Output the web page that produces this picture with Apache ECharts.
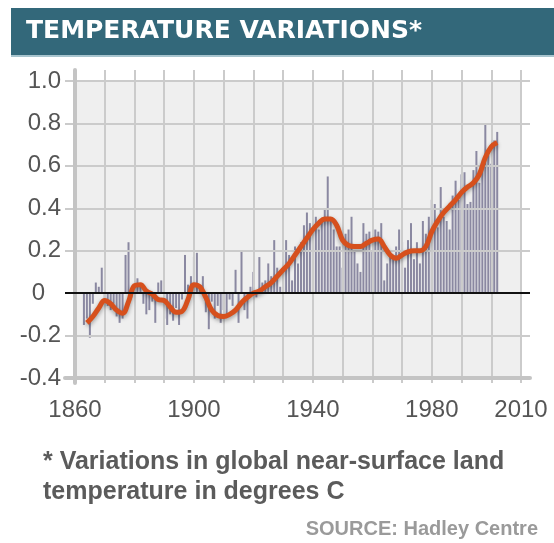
<!DOCTYPE html>
<html><head><meta charset="utf-8">
<script src="https://cdn.jsdelivr.net/npm/echarts@6/dist/echarts.min.js"></script>
<style>html,body{margin:0;padding:0;background:#fff}#c{width:554px;height:543px}</style>
</head><body><div id="c"></div>
<script>
const titleText = 'TEMPERATURE VARIATIONS*';
const noteLines = ['* Variations in global near-surface land', 'temperature in degrees C'];
const sourceText = 'SOURCE: Hadley Centre';

// annual anomalies, one per year starting at firstYear
const firstYear = 1863;
const annual = [
  -0.15, -0.12, -0.21, -0.05, 0.05, 0.03, 0.12,            // 1863-1869
  -0.04, -0.06, -0.08, -0.05, -0.11, -0.14, -0.12, 0.18, 0.24, -0.02, // 1870-1879
  0.02, 0.07, 0.04, -0.05, -0.10, -0.08, -0.04, -0.14, 0.05, 0.06,    // 1880-1889
  -0.12, -0.15, -0.10, -0.13, -0.07, -0.15, -0.03, 0.18, 0.04, 0.08,  // 1890-1899
  0.17, 0.19, 0.02, 0.08, -0.09, -0.17, -0.04, -0.12, -0.06, -0.14,   // 1900-1909
  -0.08, -0.11, -0.03, -0.06, 0.11, -0.14, 0.20, -0.08, -0.12, 0.03,  // 1910-1919
  0.10, -0.02, 0.17, 0.05, 0.06, 0.14, 0.08, 0.25, 0.12, 0.03,        // 1920-1929
  0.20, 0.25, 0.18, 0.06, 0.22, 0.14, 0.24, 0.32, 0.38, 0.33,         // 1930-1939
  0.28, 0.36, 0.30, 0.34, 0.40, 0.55, 0.34, 0.30, 0.22, 0.22,         // 1940-1949
  0.12, 0.28, 0.30, 0.36, 0.20, 0.14, 0.10, 0.33, 0.28, 0.29,         // 1950-1959
  0.20, 0.30, 0.29, 0.33, 0.06, 0.14, 0.18, 0.16, 0.22, 0.30,         // 1960-1969
  0.24, 0.12, 0.25, 0.33, 0.16, 0.24, 0.14, 0.34, 0.28, 0.36,         // 1970-1979
  0.44, 0.42, 0.31, 0.50, 0.36, 0.34, 0.30, 0.46, 0.53, 0.44,         // 1980-1989
  0.56, 0.57, 0.42, 0.43, 0.58, 0.67, 0.52, 0.60, 0.80, 0.65,         // 1990-1999
  0.61, 0.72, 0.76                                                    // 2000-2002
];

// smoothed trend
const smoothYears = [1864,1866,1868,1870,1872,1874,1876,1878,1880,1882,1884,1886,1888,1890,1892,1894,1896,1898,1900,1902,1904,1906,1908,1910,1912,1914,1916,1918,1920,1922,1924,1926,1928,1930,1932,1934,1936,1938,1940,1942,1944,1946,1948,1950,1952,1954,1956,1958,1960,1962,1964,1966,1968,1970,1972,1974,1976,1978,1980,1982,1984,1986,1988,1990,1992,1994,1996,1998,2000,2002];
const smoothValues = [-0.14,-0.11,-0.07,-0.035,-0.05,-0.08,-0.095,-0.04,0.035,0.04,0.01,-0.005,-0.03,-0.035,-0.065,-0.09,-0.085,-0.03,0.04,0.03,-0.02,-0.08,-0.105,-0.11,-0.1,-0.08,-0.045,-0.02,0.0,0.01,0.03,0.05,0.08,0.11,0.14,0.18,0.22,0.26,0.30,0.33,0.35,0.35,0.32,0.25,0.225,0.22,0.22,0.235,0.25,0.255,0.22,0.18,0.165,0.18,0.195,0.2,0.2,0.22,0.29,0.34,0.38,0.41,0.44,0.475,0.5,0.52,0.56,0.64,0.69,0.71];

const xTickLabels = [1860, 1900, 1940, 1980, 2010];
const yTickLabels = ['-0.4', '-0.2', '0', '0.2', '0.4', '0.6', '0.8', '1.0'];

const labelFont = {fontFamily: 'Liberation Sans', fontSize: 24, color: '#555'};
const gridColor = '#cbcbcb';
const frameColor = '#c4c4c4';

const chart = echarts.init(document.getElementById('c'), null, {renderer: 'canvas'});
chart.setOption({
  animation: false,
  backgroundColor: '#fff',
  graphic: [
    {type: 'rect', shape: {x: 11, y: 8, width: 543, height: 47}, style: {fill: '#33687a'}, z: 0},
    {type: 'rect', shape: {x: 11, y: 55, width: 543, height: 2}, style: {fill: '#a7c4ce'}, z: 0}
  ],
  title: [
    {text: titleText, left: 26, top: 19, padding: 0, z: 10,
     textStyle: {color: '#fff', fontFamily: 'DejaVu Sans', fontWeight: 'bold', fontSize: 25}},
    {text: noteLines.join('\n'), left: 43, top: 447, padding: 0,
     textStyle: {color: '#5b5b5b', fontFamily: 'Liberation Sans', fontWeight: 'bold', fontSize: 25, lineHeight: 30}},
    {text: sourceText, right: 16, top: 519, padding: 0,
     textStyle: {color: '#9a9a9a', fontFamily: 'Liberation Sans', fontWeight: 'bold', fontSize: 20}}
  ],
  grid: [
    {left: 75, right: 33, top: 81, bottom: 165, show: true, backgroundColor: '#efefef', borderWidth: 0, z: 0},
    {left: 65, right: 24, top: 81, bottom: 165, show: false},
    {left: 75, right: 33, top: 70, bottom: 160, show: false}
  ],
  xAxis: [
    {gridIndex: 0, type: 'value', min: 1860, max: 2010, show: false},
    {gridIndex: 1, type: 'value', min: 0, max: 1, z: 2,
     axisLine: {show: true, onZero: false, lineStyle: {color: frameColor, width: 4}},
     axisTick: {show: false}, axisLabel: {show: false}, splitLine: {show: false}},
    {gridIndex: 2, type: 'value', min: 1860, max: 2010, interval: 10, z: 2,
     axisLine: {show: false}, axisTick: {show: false},
     splitLine: {show: true, lineStyle: {color: gridColor, width: 2}},
     axisLabel: Object.assign({show: true, margin: 15, showMinLabel: true, showMaxLabel: true,
       formatter: v => xTickLabels.indexOf(v) >= 0 ? String(v) : ''}, labelFont)}
  ],
  yAxis: [
    {gridIndex: 0, type: 'value', min: -0.4, max: 1.0, show: false},
    {gridIndex: 1, type: 'value', min: -0.4, max: 1.0, interval: 0.2, z: 2,
     axisLine: {show: false}, axisTick: {show: false},
     splitLine: {show: true, lineStyle: {color: gridColor, width: 2}},
     axisLabel: Object.assign({margin: 4, showMinLabel: true, showMaxLabel: true,
       formatter: v => {
         const s = yTickLabels[Math.round((v + 0.4) / 0.2)];
         return s === '0' ? '{z|0}' : s;
       },
       rich: {z: Object.assign({padding: [0, 16, 0, 0]}, labelFont)}}, labelFont)},
    {gridIndex: 2, type: 'value', min: 0, max: 1, z: 2,
     axisLine: {show: true, onZero: false, lineStyle: {color: frameColor, width: 4}},
     axisTick: {show: false}, axisLabel: {show: false}, splitLine: {show: false}}
  ],
  series: [
    {type: 'bar', xAxisIndex: 0, yAxisIndex: 0, z: 1, silent: true, barWidth: 2,
     itemStyle: {color: '#8a88a1'},
     data: annual.map((v, i) => [firstYear + i, v])},
    {type: 'line', xAxisIndex: 1, yAxisIndex: 1, z: 3, silent: true, data: [],
     markLine: {silent: true, symbol: ['none', 'none'], label: {show: false},
       lineStyle: {color: '#111', width: 2, type: 'solid'}, data: [{yAxis: 0}]}},
    {type: 'line', xAxisIndex: 0, yAxisIndex: 0, z: 4, silent: true, smooth: 0.4,
     showSymbol: false, symbol: 'none',
     lineStyle: {color: '#d6501d', width: 5, shadowColor: 'rgba(0,0,0,0.35)', shadowBlur: 4, shadowOffsetY: 2},
     data: smoothYears.map((y, i) => [y, smoothValues[i]])}
  ]
});
</script></body></html>
